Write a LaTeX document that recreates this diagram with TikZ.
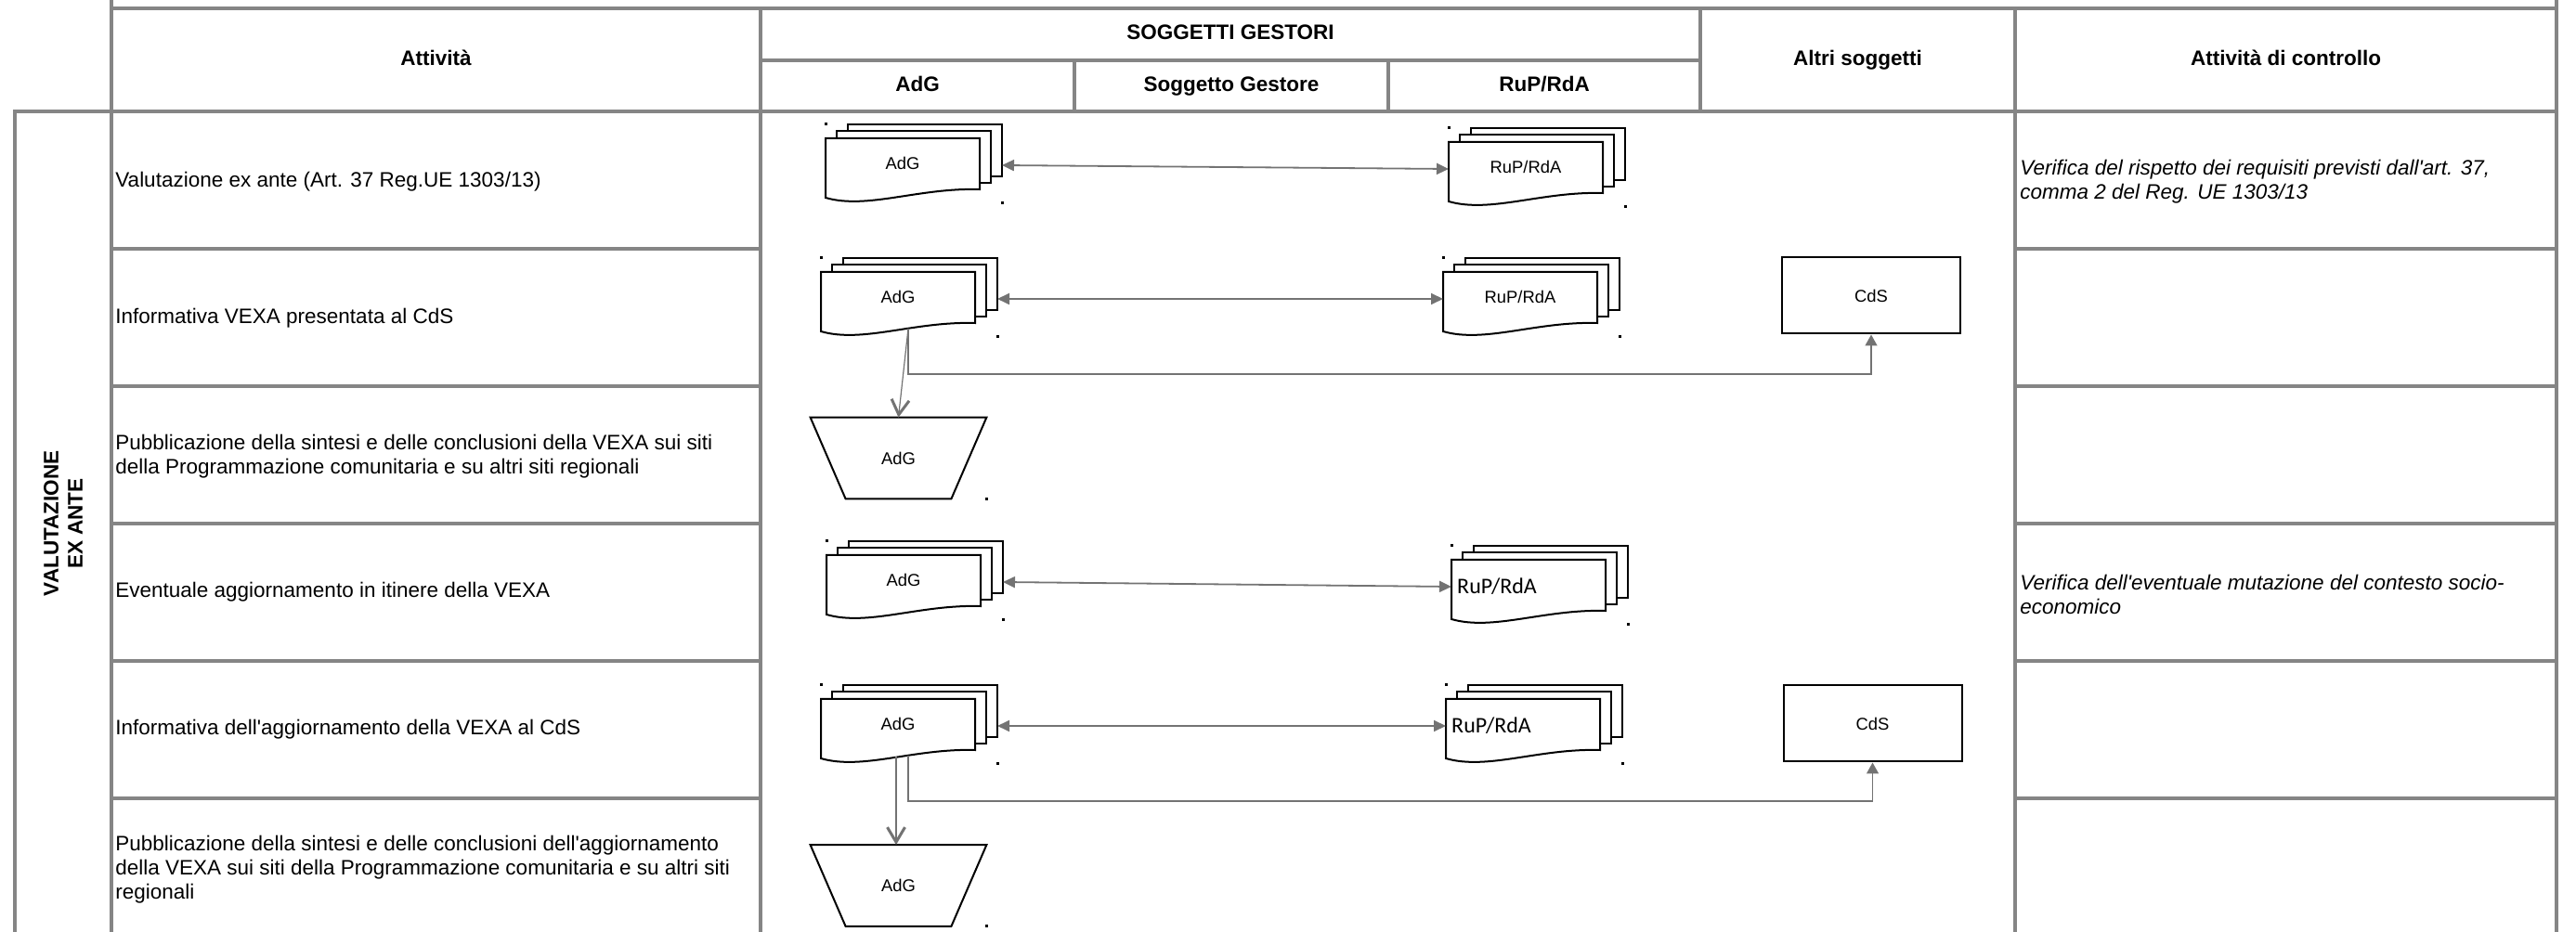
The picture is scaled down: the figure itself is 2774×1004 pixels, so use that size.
\documentclass[tikz,border=0pt]{standalone}
\usepackage{fontspec}
\setmainfont{Liberation Sans}
\newfontfamily\carlito{Carlito}
\usetikzlibrary{arrows.meta}

\newcommand{\apos}{\textquotesingle}

\tikzset{
  tabline/.style={draw=black!48, line width=1.6pt, line cap=rect},
  headtext/.style={font=\fontsize{11.25}{13}\selectfont\bfseries, inner sep=0pt, text height=8.1pt, text depth=2.3pt},
  phasetext/.style={font=\fontsize{11.25}{13}\selectfont\bfseries, inner sep=0pt, align=center},
  cell/.style={anchor=west, align=left, inner sep=0pt, font=\fontsize{11.25}{13}\selectfont},
  check/.style={cell, font=\fontsize{11.25}{13}\selectfont\itshape},
  sheet/.style={draw=black, fill=white, line width=1pt},
  trapline/.style={draw=black, line width=1pt},
  doclabel/.style={inner sep=0pt, font=\fontsize{9.2}{11}\selectfont, text height=6.6pt, text depth=1.9pt},
  ruplabel/.style={inner sep=0pt, font=\carlito\fontsize{12}{14}\selectfont, xshift=-17pt},
  cdsbox/.style={draw=black, line width=1pt, minimum width=96pt, minimum height=41pt, inner sep=0pt, font=\fontsize{9.2}{11}\selectfont},
  pubbox/.style={minimum width=94.5pt, minimum height=43.5pt, inner sep=0pt, font=\fontsize{9.2}{11}\selectfont},
  cornerdot/.style={fill=black},
  link/.style={draw=black!55, line width=0.9pt, {Triangle[length=6.5pt,width=6pt]}-{Triangle[length=6.5pt,width=6pt]}},
  feed/.style={draw=black!55, line width=0.7pt, -{Triangle[length=6pt,width=6.5pt]}},
  publish/.style={draw=black!55, line width=0.6pt, -{Straight Barb[length=8pt,width=9.5pt,line width=1.5pt]}}
}

% stack of three sheets: name, top-left corner, label style, label
\newcommand{\multidoc}[5]{%
  \begin{scope}[shift={(#2,#3)}]
    \draw[sheet] (24,0) rectangle (190,56);
    \draw[sheet] (12,7.5) rectangle (178,63);
    \draw[sheet] (0,15) -- (166,15) -- (166,70)
      .. controls (100,68) and (45,92) .. (0,79) -- cycle;
    \fill[cornerdot] (-1.5,-1.5) rectangle (1.5,1.5);
    \fill[cornerdot] (188.5,83.5) rectangle (191.5,86.5);
    \coordinate (#1-w) at (0,44);
    \coordinate (#1-e) at (190,44);
    \coordinate (#1-s) at (94,76);
    \coordinate (#1-t) at (81,77.5);
    \node[#4] (#1) at (83,44) {#5};
  \end{scope}}

\begin{document}
\begin{tikzpicture}[x=0.5pt, y=-0.5pt]
\useasboundingbox (0,0) rectangle (2774,1004);

% table
\draw[tabline] (120,0) -- (120,1004);
\draw[tabline] (2753,0) -- (2753,1004);
\draw[tabline] (16,120) -- (16,1004);
\draw[tabline] (819,9) -- (819,1004);
\draw[tabline] (2170,9) -- (2170,1004);
\draw[tabline] (1831,9) -- (1831,120);
\draw[tabline] (1157,65) -- (1157,120);
\draw[tabline] (1495,65) -- (1495,120);
\draw[tabline] (120,9) -- (2753,9);
\draw[tabline] (819,65) -- (1831,65);
\draw[tabline] (16,120) -- (2753,120);
\draw[tabline] (120,268) -- (819,268);
\draw[tabline] (2170,268) -- (2753,268);
\draw[tabline] (120,416) -- (819,416);
\draw[tabline] (2170,416) -- (2753,416);
\draw[tabline] (120,564) -- (819,564);
\draw[tabline] (2170,564) -- (2753,564);
\draw[tabline] (120,712) -- (819,712);
\draw[tabline] (2170,712) -- (2753,712);
\draw[tabline] (120,860) -- (819,860);
\draw[tabline] (2170,860) -- (2753,860);

\node[headtext] (hatt) at (469.5,64.5) {Attività};
\node[headtext] (hsog) at (1325,37) {SOGGETTI GESTORI};
\node[headtext] (hadg) at (988,92.5) {AdG};
\node[headtext] (hges) at (1326,92.5) {Soggetto Gestore};
\node[headtext] (hrup) at (1663,92.5) {RuP/RdA};
\node[headtext] (halt) at (2000.5,64.5) {Altri soggetti};
\node[headtext] (hctl) at (2461.5,64.5) {Attività di controllo};
\node[phasetext, rotate=90] (phase) at (68,564) {VALUTAZIONE\\EX ANTE};

\node[cell] (act1) at (124,196) {Valutazione ex ante (Art. 37 Reg.UE 1303/13)};
\node[cell] (act2) at (124,343) {Informativa VEXA presentata al CdS};
\node[cell] (act3) at (124,492) {Pubblicazione della sintesi e delle conclusioni della VEXA sui siti\\della Programmazione comunitaria e su altri siti regionali};
\node[cell] (act4) at (124,638) {Eventuale aggiornamento in itinere della VEXA};
\node[cell] (act5) at (124,786) {Informativa dell\apos aggiornamento della VEXA al CdS};
\node[cell] (act6) at (124,937) {Pubblicazione della sintesi e delle conclusioni dell\apos aggiornamento\\della VEXA sui siti della Programmazione comunitaria e su altri siti\\regionali};

\node[check] (ctl1) at (2175,196) {Verifica del rispetto dei requisiti previsti dall\apos art. 37,\\comma 2 del Reg. UE 1303/13};
\node[check] (ctl4) at (2175,640) {Verifica dell\apos eventuale mutazione del contesto socio-\\economico};

% flow
\multidoc{adg1}{889}{134}{doclabel}{AdG}
\multidoc{rup1}{1560}{138}{doclabel}{RuP/RdA}
\multidoc{adg2}{884}{278}{doclabel}{AdG}
\multidoc{rup2}{1554}{278}{doclabel}{RuP/RdA}
\node[cdsbox] (cds2) at (2015,318.5) {CdS};
\node[pubbox] (pub3) at (967.5,493.5) {AdG};
\multidoc{adg4}{890}{583}{doclabel}{AdG}
\multidoc{rup4}{1563}{588}{ruplabel}{RuP/RdA}
\multidoc{adg5}{884}{738}{doclabel}{AdG}
\multidoc{rup5}{1557}{738}{ruplabel}{RuP/RdA}
\node[cdsbox] (cds5) at (2016.5,779.5) {CdS};
\node[pubbox] (pub6) at (967.5,954) {AdG};

\draw[trapline] (pub3.north west) -- (pub3.north east) -- ([xshift=-19pt]pub3.south east) -- ([xshift=19pt]pub3.south west) -- cycle;
\draw[trapline] (pub6.north west) -- (pub6.north east) -- ([xshift=-19pt]pub6.south east) -- ([xshift=19pt]pub6.south west) -- cycle;
\fill[cornerdot] (pub3.south east) ++(-1.5,-1.5) rectangle ++(3,3);
\fill[cornerdot] (pub6.south east) ++(-1.5,-1.5) rectangle ++(3,3);

\draw[link] (adg1-e) -- (rup1-w);
\draw[link] (adg2-e) -- (rup2-w);
\draw[link] (adg4-e) -- (rup4-w);
\draw[link] (adg5-e) -- (rup5-w);

\coordinate (bus2) at (978,403);
\draw[feed] (adg2-s) -- (bus2) -| (cds2.south);
\draw[publish] (adg2-s) -- (pub3.north);
\coordinate (bus5) at (978,863);
\draw[feed] (adg5-s) -- (bus5) -| (cds5.south);
\draw[publish] (adg5-t) -- (adg5-t |- pub6.north);
\end{tikzpicture}
\end{document}
